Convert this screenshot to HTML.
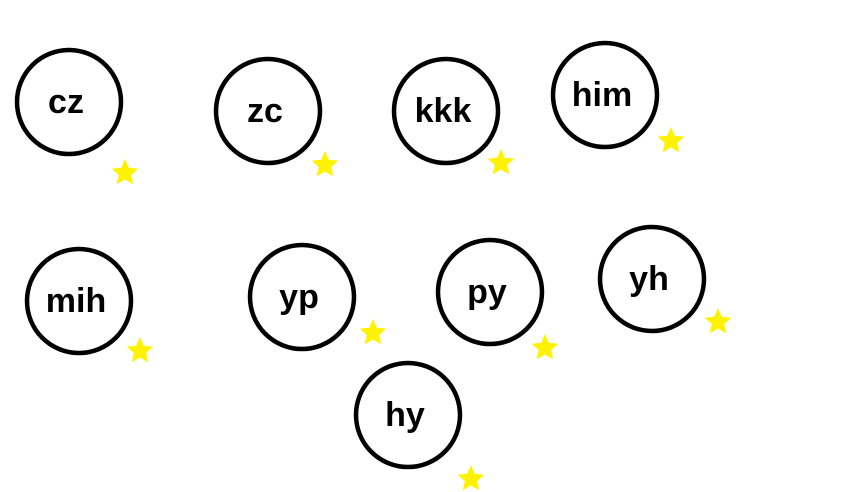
<!DOCTYPE html>
<html><head><meta charset="utf-8"><style>
html,body{margin:0;padding:0;background:#fff;width:864px;height:492px;overflow:hidden}
svg{display:block}
</style></head><body>
<svg id="c" width="864" height="492" viewBox="0 0 864 492"></svg>
<script>
const labels=["cz","zc","kkk","him","mih","yp","py","yh","hy"];
const cxs=[69,268,446,605,79,302,490,652,408];
const cys=[102,111,111,95,301,297,292,279,415];
const sx=[125,325,501,671,140,373,545,718,471];
const sy=[173,165,163,141,351,333,348,322,479];
const svg=document.getElementById('c');
const NS="http://www.w3.org/2000/svg";
function starPts(cx,cy,R,r){let p=[];for(let i=0;i<10;i++){const a=-Math.PI/2+i*Math.PI/5;const rr=i%2?r:R;p.push((cx+rr*Math.cos(a)).toFixed(1)+','+(cy+rr*Math.sin(a)).toFixed(1));}return p.join(' ');}
for(let i=0;i<labels.length;i++){
  const c=document.createElementNS(NS,'circle');
  c.setAttribute('cx',cxs[i]);c.setAttribute('cy',cys[i]);c.setAttribute('r',52);
  c.setAttribute('fill','none');c.setAttribute('stroke','#000');c.setAttribute('stroke-width','4.5');
  
  
  svg.appendChild(c);
  const t=document.createElementNS(NS,'text');
  t.setAttribute('x',cxs[i]-3);t.setAttribute('y',cys[i]+2);
  t.setAttribute('text-anchor','middle');t.setAttribute('dominant-baseline','middle');
  t.setAttribute('font-family','"Liberation Sans", sans-serif');t.setAttribute('font-weight','bold');t.setAttribute('font-size','34');
  t.textContent=labels[i];
  
  
  svg.appendChild(t);
  const s=document.createElementNS(NS,'polygon');
  s.setAttribute('points',starPts(sx[i],sy[i],14,6.5));
  s.setAttribute('fill','#fff200');
  
  
  svg.appendChild(s);
}
</script>
</body></html>
